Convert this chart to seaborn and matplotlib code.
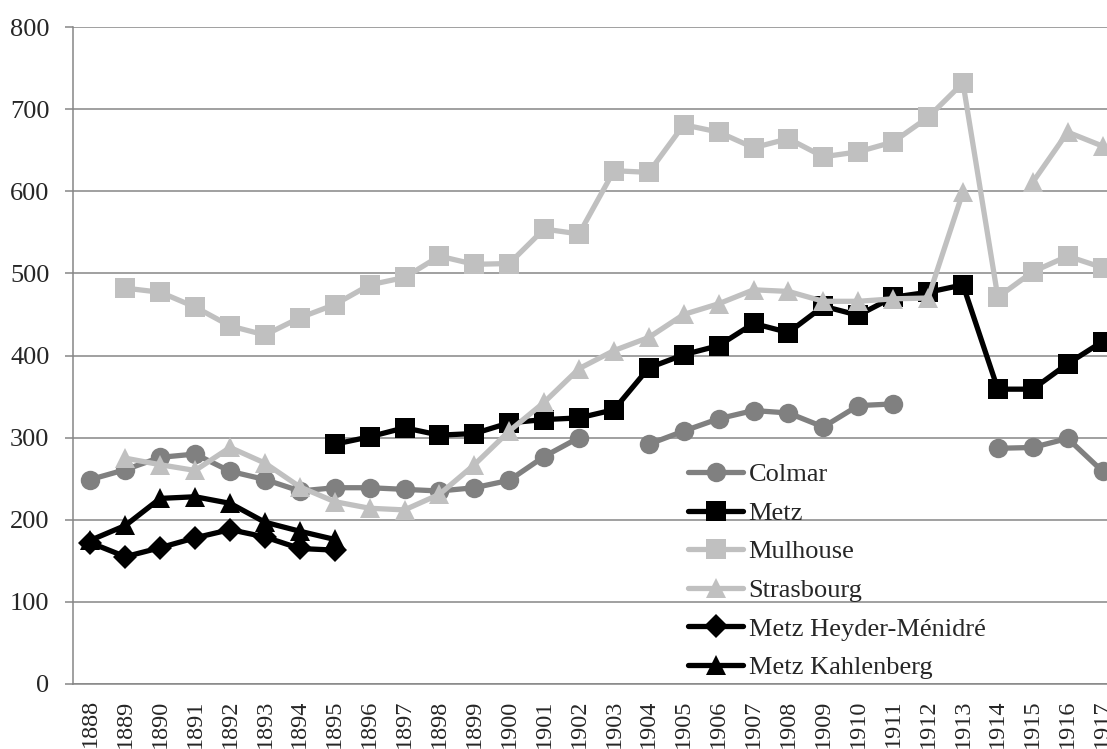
import numpy as np
import pandas as pd
import seaborn as sns
import matplotlib.pyplot as plt
from matplotlib.ticker import FixedLocator

nan = np.nan
years = list(range(1888, 1918))

colmar = [249, 261, 276, 280, 259, 249, 235, 239, 239, 237, 235, 239, 248, 277, 300, nan,
          292, 308, 323, 333, 330, 313, 339, 341, nan, nan, 287, 288, 299, 259]
metz = [nan] * 7 + [292, 301, 312, 303, 305, 318, 322, 324, 334, 385, 401, 412, 439,
                    428, 460, 449, 471, 477, 486, 359, 359, 390, 417]
mulhouse = [nan, 482, 477, 459, 436, 425, 446, 462, 486, 495, 521, 511, 512, 554, 548, 625,
            623, 681, 672, 653, 664, 642, 648, 660, 690, 732, 471, 502, 521, 507]
strasbourg = [nan, 275, 267, 260, 288, 269, 240, 222, 214, 212, 231, 267, 308, 343, 384, 406,
              422, 450, 463, 480, 478, 466, 466, 469, 470, 599, nan, 611, 672, 655]
heyder = [172, 155, 166, 178, 188, 179, 165, 163] + [nan] * 22
kahlenberg = [175, 193, 226, 228, 220, 197, 186, 176] + [nan] * 22

series = ["Colmar", "Metz", "Mulhouse", "Strasbourg", "Metz Heyder-Ménidré", "Metz Kahlenberg"]
values = [colmar, metz, mulhouse, strasbourg, heyder, kahlenberg]
colors = ["#808080", "#000000", "#c0c0c0", "#c0c0c0", "#000000", "#000000"]
markers = ["o", "s", "s", "^", "D", "^"]
msizes = [14, 14, 14, 15, 12, 15]

sns.set_style("white")
plt.rcParams['font.family'] = ['Liberation Serif', 'DejaVu Serif']

fig = plt.figure(figsize=(11.07, 7.49), dpi=100)
ax = fig.add_axes([73 / 1107, 65 / 749, 1047 / 1107, 657 / 749])

grid_col = "#868686"
ax.set_ylim(0, 800)
ax.set_yticks(range(0, 801, 100))
ax.yaxis.grid(True, color=grid_col, linewidth=1.1)
ax.set_axisbelow(True)

for name, vals, col, mk, ms in zip(series, values, colors, markers, msizes):
    df = pd.DataFrame({"year": years, "val": vals})
    # break the line where a year is missing
    df["seg"] = df["val"].isna().cumsum()
    df = df.dropna()
    first = True
    for _, seg in df.groupby("seg"):
        sns.lineplot(data=seg, x="year", y="val", ax=ax, color=col, marker=mk,
                     markersize=ms, markeredgewidth=0, linewidth=3.8,
                     label=name if first else None, legend=False)
        first = False

ax.set_xlim(years[0] - 0.5, years[-1] + 0.5)
ax.set_xticks(years)
ax.set_xticklabels([str(y) for y in years], rotation=90, fontsize=17.5)
ax.xaxis.set_minor_locator(FixedLocator([y - 0.5 for y in years] + [years[-1] + 0.5]))
ax.tick_params(axis="x", which="major", length=0, pad=11)
ax.tick_params(axis="x", which="minor", length=6, width=1.1, color=grid_col, direction="out")
ax.tick_params(axis="y", length=6, width=1.1, color=grid_col, pad=11, labelsize=19, left=True)
ax.set_xlabel("")
ax.set_ylabel("")

for s in ["top", "right"]:
    ax.spines[s].set_visible(False)
for s in ["left", "bottom"]:
    ax.spines[s].set_color(grid_col)
    ax.spines[s].set_linewidth(1.1)

ax.legend(loc="upper left", bbox_to_anchor=(688 / 1107, 1 - 463 / 749),
          bbox_transform=fig.transFigure, frameon=False, fontsize=19,
          handlelength=2.1, handletextpad=0.2, labelspacing=0.57,
          borderpad=0, borderaxespad=0)

fig.savefig("out.png", dpi=100)
